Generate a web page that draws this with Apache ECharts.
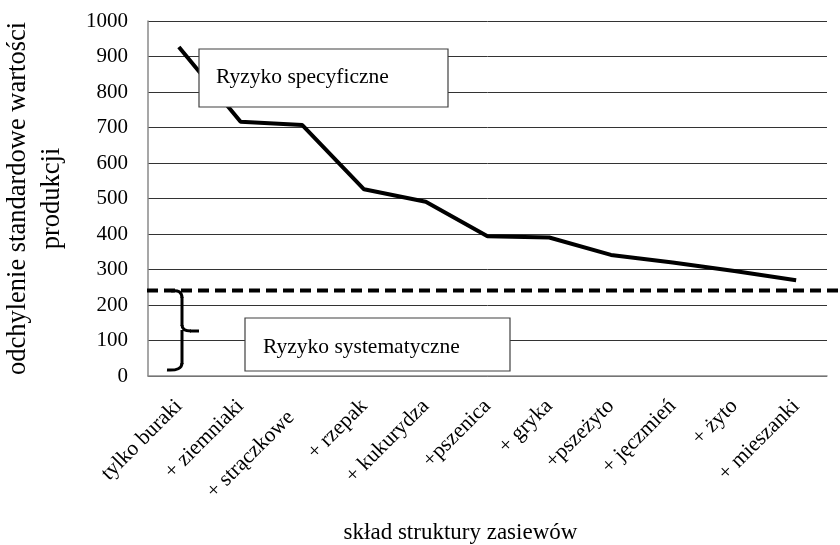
<!DOCTYPE html>
<html>
<head>
<meta charset="utf-8">
<script src="https://cdn.jsdelivr.net/npm/echarts@6/dist/echarts.min.js"></script>
<style>
  html, body { margin: 0; padding: 0; background: #fff; }
  #chart { width: 840px; height: 545px; }
</style>
</head>
<body>
<div id="chart"></div>
<script>
// dane
var categories = ['tylko buraki', '+ ziemniaki', '+ strączkowe', '+ rzepak', '+ kukurydza',
  '+pszenica', '+ gryka', '+pszeżyto', '+ jęczmień', '+ żyto', '+ mieszanki'];
var stdDev = [927, 716, 707, 526, 491, 394, 390, 341, 320, 296, 270];
var systemicRisk = 241;
var yTicks = [0, 100, 200, 300, 400, 500, 600, 700, 800, 900, 1000];

var font = '"Liberation Serif", "DejaVu Serif", serif';

var chart = echarts.init(document.getElementById('chart'));

// etykieta "+ strączkowe" jest w oryginale lekko przesunięta w dół
var xData = categories.map(function (c, i) {
  if (i === 2) return { value: c, textStyle: { padding: [14, 16, 0, 0] } };
  return c;
});

var option = {
  backgroundColor: '#fff',
  animation: false,
  textStyle: { fontFamily: font, color: '#000' },
  grid: { left: 148, right: 13, top: 21, bottom: 169, containLabel: false, outerBoundsMode: 'none' },
  xAxis: {
    type: 'category',
    data: xData,
    boundaryGap: true,
    name: 'skład struktury zasiewów',
    nameLocation: 'middle',
    nameGap: 145,
    nameTextStyle: { fontFamily: font, fontSize: 23, color: '#000', padding: [0, 54, 0, 0] },
    axisLine: { lineStyle: { color: '#8a8a8a', width: 1.5 } },
    axisTick: { show: false },
    axisLabel: { rotate: 45, margin: 27, fontFamily: font, fontSize: 21.5, color: '#000', interval: 0 }
  },
  yAxis: {
    type: 'value',
    min: yTicks[0],
    max: yTicks[yTicks.length - 1],
    interval: 100,
    name: 'odchylenie standardowe wartości\nprodukcji',
    nameLocation: 'middle',
    nameGap: 79,
    nameTextStyle: { fontFamily: font, fontSize: 26.5, color: '#000', lineHeight: 34 },
    axisLine: { show: true, lineStyle: { color: '#8a8a8a', width: 1.5 } },
    axisTick: { show: false },
    axisLabel: {
      margin: 20, fontFamily: font, fontSize: 21, color: '#000',
      formatter: function (v) { return String(v); }
    },
    splitLine: { lineStyle: { color: '#333', width: 1 } }
  },
  series: [{
    type: 'line',
    data: stdDev,
    showSymbol: false,
    symbol: 'none',
    lineStyle: { color: '#000', width: 4 },
    z: 3
  }]
};

chart.setOption(option);

// linia ryzyka systematycznego (wychodzi poza obszar wykresu)
var yRisk = chart.convertToPixel({ yAxisIndex: 0 }, systemicRisk);

var braceStyle = { fill: null, stroke: '#000', lineWidth: 3 };

chart.setOption({
  graphic: [
    {
      type: 'line',
      shape: { x1: 147, y1: yRisk, x2: 840, y2: yRisk },
      style: { stroke: '#000', lineWidth: 4, lineDash: [11, 6] },
      z: 10
    },
    {
      type: 'rect',
      shape: { x: 199, y: 49, width: 249, height: 58 },
      style: { fill: '#fff', stroke: '#404040', lineWidth: 1.2 },
      z: 20
    },
    {
      type: 'text',
      x: 216, y: 77,
      style: { text: 'Ryzyko specyficzne', font: '21.5px ' + font, fill: '#000', verticalAlign: 'middle' },
      z: 21
    },
    {
      type: 'rect',
      shape: { x: 245, y: 318, width: 265, height: 53 },
      style: { fill: '#fff', stroke: '#404040', lineWidth: 1.2 },
      z: 20
    },
    {
      type: 'text',
      x: 263, y: 347,
      style: { text: 'Ryzyko systematyczne', font: '21.5px ' + font, fill: '#000', verticalAlign: 'middle' },
      z: 21
    },
    // klamra
    {
      type: 'bezierCurve',
      shape: { x1: 171, y1: 291, cpx1: 182, cpy1: 289, x2: 182, y2: 298 },
      style: braceStyle, z: 21
    },
    {
      type: 'polyline',
      shape: { points: [[182, 297], [182, 326]] },
      style: braceStyle, z: 21
    },
    {
      type: 'bezierCurve',
      shape: { x1: 182, y1: 325, cpx1: 182, cpy1: 331, x2: 191, y2: 331 },
      style: braceStyle, z: 21
    },
    {
      type: 'polyline',
      shape: { points: [[190, 331], [199, 331]] },
      style: braceStyle, z: 21
    },
    {
      type: 'polyline',
      shape: { points: [[182, 330], [182, 364]] },
      style: braceStyle, z: 21
    },
    {
      type: 'bezierCurve',
      shape: { x1: 182, y1: 363, cpx1: 182, cpy1: 371, x2: 167, y2: 370 },
      style: braceStyle, z: 21
    }
  ]
});
</script>
</body>
</html>
